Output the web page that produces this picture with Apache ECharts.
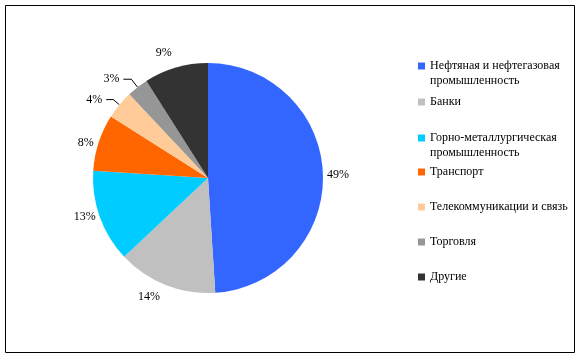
<!DOCTYPE html>
<html>
<head>
<meta charset="utf-8">
<script src="https://cdn.jsdelivr.net/npm/echarts@6/dist/echarts.min.js"></script>
<style>html,body{margin:0;padding:0;background:#fff}#c{width:581px;height:361px}</style>
</head>
<body>
<div id="c"></div>
<script>
const categories = [
  'Нефтяная и нефтегазовая\nпромышленность',
  'Банки',
  'Горно-металлургическая\nпромышленность',
  'Транспорт',
  'Телекоммуникации и связь',
  'Торговля',
  'Другие'
];
const values = [49, 14, 13, 8, 4, 3, 9];
const colors = ['#3366FF', '#C0C0C0', '#00CCFF', '#FF6600', '#FFCC99', '#969696', '#333333'];

const font = 'Liberation Serif';
// per-slice label line settings
const lineCfg = [
  {show: false, length: 0, length2: 0, dist: 4},
  {show: false, length: 13, length2: 0, dist: 1},
  {show: false, length: 0, length2: 0, dist: 4},
  {show: false, length: 0, length2: 0, dist: 5},
  {show: true, length: 8, length2: 7, dist: 4},
  {show: true, length: 10, length2: 8, dist: 4},
  {show: false, length: 15, length2: 0, dist: 0}
];
const legendTops = [43.5, 94.5, 115.5, 164.5, 199.5, 234.5, 269.5];

const data = categories.map((n, i) => ({
  name: n,
  value: values[i],
  itemStyle: {color: colors[i]},
  label: {distanceToLabelLine: lineCfg[i].dist},
  labelLine: {show: lineCfg[i].show, length: lineCfg[i].length, length2: lineCfg[i].length2}
}));

const legends = categories.map((n, i) => ({
  data: [n],
  orient: 'vertical',
  left: 418,
  top: legendTops[i],
  padding: 0,
  icon: 'rect',
  itemWidth: 7,
  itemHeight: 7,
  selectedMode: false,
  formatter: (name) => name.indexOf('\n') >= 0 ? '\n' + name : name,
  textStyle: {fontFamily: font, fontSize: 12, color: '#000', lineHeight: 15}
}));

const chart = echarts.init(document.getElementById('c'), null, {renderer: 'canvas'});
chart.setOption({
  animation: false,
  backgroundColor: '#fff',
  graphic: [{
    type: 'rect',
    shape: {x: 5.5, y: 5.5, width: 569, height: 347},
    style: {fill: 'none', stroke: '#000', lineWidth: 1},
    silent: true
  }],
  legend: legends,
  series: [{
    type: 'pie',
    center: [208, 178],
    radius: [0, 115],
    startAngle: 90,
    clockwise: true,
    avoidLabelOverlap: false,
    data: data,
    label: {
      show: true,
      position: 'outside',
      formatter: '{c}%',
      fontFamily: font,
      fontSize: 12,
      color: '#000'
    },
    labelLine: {lineStyle: {color: '#000', width: 1}, smooth: false},
    itemStyle: {borderWidth: 0},
    emphasis: {disabled: true}
  }]
});
</script>
</body>
</html>
